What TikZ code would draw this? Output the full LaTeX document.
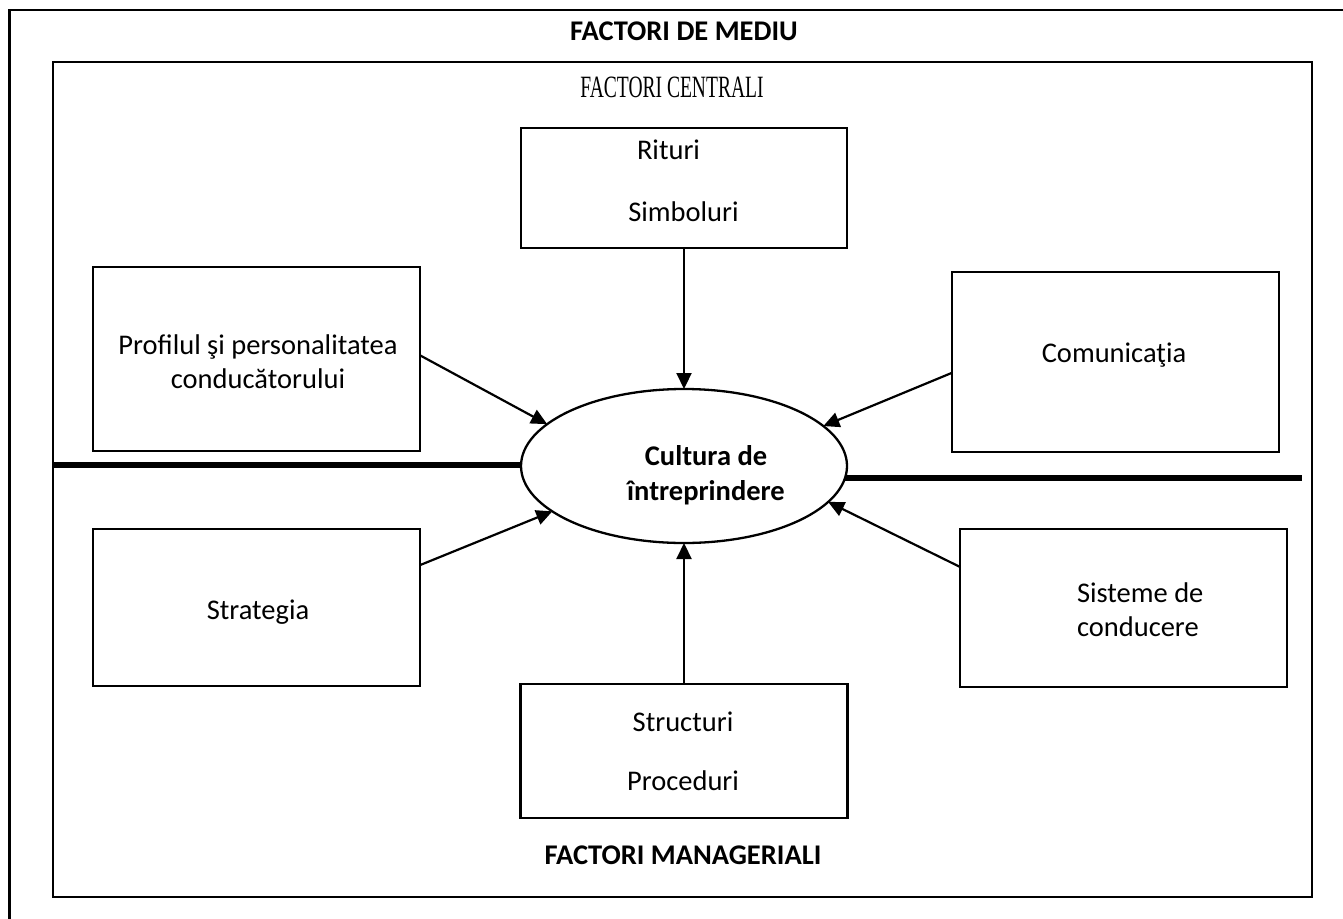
\documentclass[tikz,border=0pt]{standalone}
\usepackage{fontspec}
\setmainfont{Carlito}
\newfontfamily\condserif[FakeStretch=0.63]{Liberation Serif}
\usetikzlibrary{arrows.meta,shapes.geometric,calc}
\begin{document}
\begin{tikzpicture}[x=1pt,y=-1pt,
  every node/.style={font=\fontsize{28.5pt}{34pt}\selectfont, inner sep=0pt, outer sep=0pt},
  box/.style={draw, line width=2.3pt, rectangle, inner sep=0pt},
  frame/.style={line width=2.6pt},
  arr/.style={line width=2.2pt, -{Triangle[length=16pt,width=15pt]}},
  divider/.style={line width=6pt},
  txt/.style={align=center},
  btxt/.style={align=center, font=\fontsize{28.5pt}{35pt}\selectfont\bfseries}]
\useasboundingbox (0,0) rectangle (1343,918);
\clip (0,0) rectangle (1343,918);
% outer frame (open to the right and below, as cropped)
\draw[frame] (1360,10) -- (9.5,10) -- (9.5,940);
% inner frame
\draw[frame] (53,62) rectangle (1312,897);
% titles
\node[btxt] (tmediu) at (684,31) {FACTORI DE MEDIU};
\node[font=\fontsize{31pt}{34pt}\condserif] (tcentral) at (672,87) {FACTORI CENTRALI};
\node[btxt] (tman) at (683,855) {FACTORI MANAGERIALI};
% boxes
\node[box, minimum width=326pt, minimum height=120pt] (rit) at (684,188) {};
\node[box, minimum width=327pt, minimum height=184pt] (prof) at (256.5,359) {};
\node[box, minimum width=327pt, minimum height=180pt] (com) at (1115.5,362) {};
\node[box, minimum width=327pt, minimum height=157pt] (strat) at (256.5,607.5) {};
\node[box, minimum width=327pt, minimum height=158pt] (sis) at (1123.5,608) {};
\node[box, minimum width=327pt, minimum height=134pt] (str) at (684,751) {};
% ellipse
\node[draw, ellipse, line width=2.3pt, minimum width=326pt, minimum height=154pt] (cult) at (684,466) {};
% texts
\node (trit) at (668.5,150) {Rituri};
\node (tsim) at (683.5,212) {Simboluri};
\node[txt] (tprof) at (258,362) {Profilul şi personalitatea\\conducătorului};
\node (tcom) at (1114,355) {Comunicaţia};
\node[btxt] (tcult) at (706,475) {Cultura de\\întreprindere};
\node (tstrat) at (258,612) {Strategia};
\node[align=left, anchor=west] (tsis) at (1077,610) {Sisteme de\\conducere};
\node (tstr) at (683,722) {Structuri};
\node (tproc) at (683,781) {Proceduri};
% dividers
\coordinate (dl) at (54,465);
\coordinate (dr) at (1302,478);
\draw[divider] (dl) -- (dl -| cult.west);
\draw[divider] (cult.-4.3 |- dr) -- (dr);
% arrows
\draw[arr] (rit.south) -- (cult.north);
\draw[arr] (str.north) -- (cult.south);
\draw[arr] ($(prof.north east)!0.48!(prof.south east)$) -- (cult.163);
\draw[arr] ($(com.north west)!0.56!(com.south west)$) -- (cult.16);
\draw[arr] ($(strat.north east)!0.23!(strat.south east)$) -- (cult.199);
\draw[arr] ($(sis.north west)!0.24!(sis.south west)$) -- (cult.-14);
\end{tikzpicture}
\end{document}
